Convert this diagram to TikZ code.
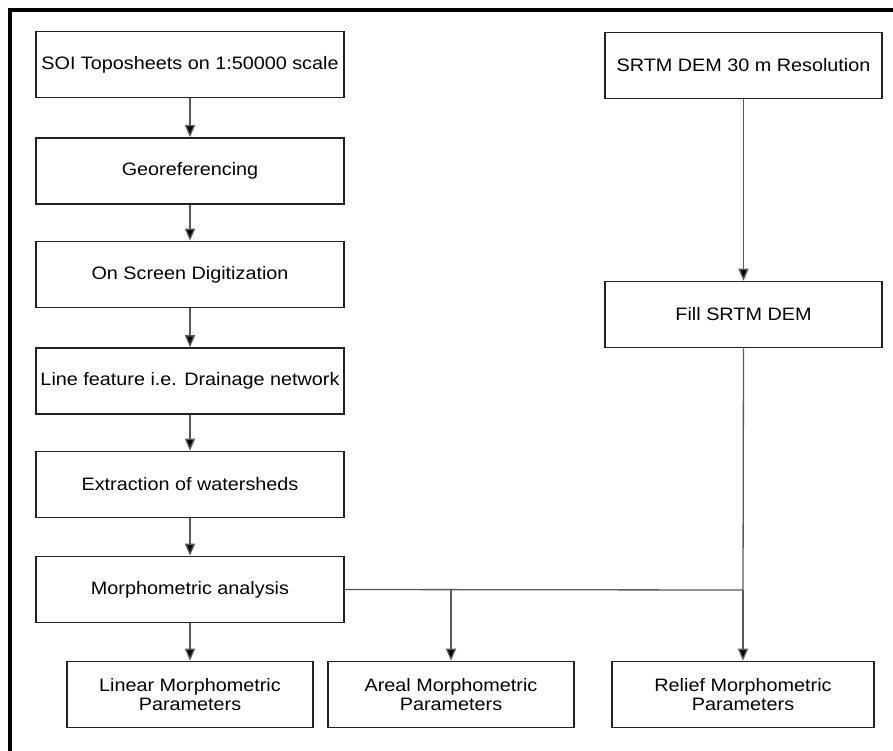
\documentclass[tikz,border=0pt]{standalone}
\usepackage{xcolor}
\usepackage{fontspec}
\setmainfont{Liberation Sans}[FakeStretch=1.1]
\usepackage{tikz}
\usetikzlibrary{arrows.meta}
\definecolor{boxline}{HTML}{222222}
\definecolor{flowline}{HTML}{5A5A5A}

\tikzset{
	procbox/.style={draw=boxline, line width=1.6pt, minimum height=66pt, align=center,
		inner sep=0pt, font=\fontsize{18}{18.5}\selectfont},
	flow/.style={draw=flowline, line width=1.3pt},
	flowarrow/.style={flow, -{Triangle[width=10pt,length=12pt,fill=black]}}
}

\begin{document}
\begin{tikzpicture}[x=1pt,y=-1pt]
	\useasboundingbox (0,0) rectangle (893,751);
	% outer frame
	\draw[line width=4pt, black] (10,751) -- (10,10) -- (893,10);

	% Left column - toposheet steps
\node[procbox, minimum width=308pt] (soi) at (190,64.5) {SOI Toposheets on 1:50000 scale};
\node[procbox, minimum width=308pt] (geo) at (190,171) {Georeferencing};
\node[procbox, minimum width=308pt] (digit) at (190,274.5) {On Screen Digitization};
\node[procbox, minimum width=308pt] (drain) at (190,381) {Line feature i.e. Drainage network};
\node[procbox, minimum width=308pt] (wshed) at (190,484.5) {Extraction of watersheds};
\node[procbox, minimum width=308pt] (morph) at (190,589.5) {Morphometric analysis};
\foreach \a/\b in {soi/geo,geo/digit,digit/drain,drain/wshed,wshed/morph} {
	\draw[flowarrow] (\a) -- (\b);
}

	% Right column - DEM steps
\node[procbox, minimum width=277pt] (srtm) at (743.5,65.5) {SRTM DEM 30 m Resolution};
\node[procbox, minimum width=277pt] (fill) at (743.5,314.5) {Fill SRTM DEM};
\draw[flowarrow] (srtm) -- (fill);

	% Bottom row - parameters
\node[procbox, minimum width=246pt] (linear) at (190,694.5) {Linear Morphometric\\Parameters};
\node[procbox, minimum width=246pt] (areal) at (451,694.5) {Areal Morphometric\\Parameters};
\node[procbox, minimum width=262pt] (relief) at (743,694.5) {Relief Morphometric\\Parameters};
\coordinate (join) at (743,590);
\coordinate (split) at (451,590);
\draw[flow] (morph.east) -- (join);
\draw[flow] (fill.south) -- (join);
\draw[flowarrow] (join) -- (relief.north);
\draw[flowarrow] (split) -- (areal.north);
\draw[flowarrow] (morph) -- (linear);
\end{tikzpicture}
\end{document}
